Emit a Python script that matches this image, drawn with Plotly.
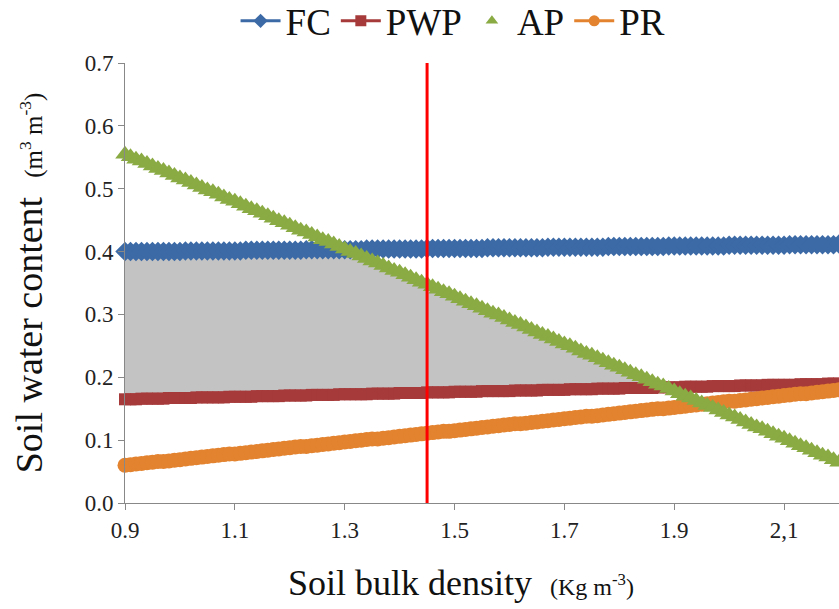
import numpy as np
import plotly.graph_objects as go

# Bulk density axis (0.90 .. 2.20, step 0.01)
bulk_density = [round(0.90 + 0.01 * i, 2) for i in range(131)]

FC = ([0.400] * 11 + [0.401] * 11 + [0.402] * 11 + [0.403] * 11 + [0.404] * 11 +
      [0.405] * 11 + [0.406] * 11 + [0.407] * 11 + [0.408] * 11 + [0.409] * 11 +
      [0.410] * 11 + [0.411] * 9 + [0.412] * 1)

PWP = ([0.165] * 3 + [0.166] * 5 + [0.167] * 5 + [0.168] * 6 + [0.169] * 5 +
       [0.170] * 5 + [0.171] * 5 + [0.172] * 5 + [0.173] * 6 + [0.174] * 5 +
       [0.175] * 5 + [0.176] * 5 + [0.177] * 5 + [0.178] * 6 + [0.179] * 5 +
       [0.180] * 5 + [0.181] * 5 + [0.182] * 5 + [0.183] * 6 + [0.184] * 5 +
       [0.185] * 5 + [0.186] * 5 + [0.187] * 5 + [0.188] * 6 + [0.189] * 5 +
       [0.190] * 3)

AP = [0.555, 0.551, 0.547, 0.544, 0.540, 0.536, 0.532, 0.529, 0.525, 0.521,
      0.517, 0.514, 0.510, 0.506, 0.502, 0.498, 0.495, 0.491, 0.487, 0.483,
      0.480, 0.476, 0.472, 0.468, 0.465, 0.461, 0.457, 0.453, 0.449, 0.446,
      0.442, 0.438, 0.434, 0.431, 0.427, 0.423, 0.419, 0.416, 0.412, 0.408,
      0.404, 0.400, 0.397, 0.393, 0.389, 0.385, 0.382, 0.378, 0.374, 0.370,
      0.367, 0.363, 0.359, 0.355, 0.351, 0.348, 0.344, 0.340, 0.336, 0.333,
      0.329, 0.325, 0.321, 0.317, 0.314, 0.310, 0.306, 0.302, 0.299, 0.295,
      0.291, 0.287, 0.284, 0.280, 0.276, 0.272, 0.268, 0.265, 0.261, 0.257,
      0.253, 0.250, 0.246, 0.242, 0.238, 0.235, 0.231, 0.227, 0.223, 0.219,
      0.216, 0.212, 0.208, 0.204, 0.201, 0.197, 0.193, 0.189, 0.186, 0.182,
      0.178, 0.174, 0.170, 0.167, 0.163, 0.159, 0.155, 0.152, 0.148, 0.144,
      0.140, 0.137, 0.133, 0.129, 0.125, 0.121, 0.118, 0.114, 0.110, 0.106,
      0.103, 0.099, 0.095, 0.091, 0.088, 0.084, 0.080, 0.076, 0.073, 0.069,
      0.065]

PR = [0.060, 0.061, 0.062, 0.063, 0.064, 0.065, 0.066, 0.066, 0.067, 0.068,
      0.069, 0.070, 0.071, 0.072, 0.073, 0.074, 0.075, 0.076, 0.077, 0.078,
      0.078, 0.079, 0.080, 0.081, 0.082, 0.083, 0.084, 0.085, 0.086, 0.087,
      0.088, 0.089, 0.090, 0.090, 0.091, 0.092, 0.093, 0.094, 0.095, 0.096,
      0.097, 0.098, 0.099, 0.100, 0.101, 0.102, 0.102, 0.103, 0.104, 0.105,
      0.106, 0.107, 0.108, 0.109, 0.110, 0.111, 0.112, 0.113, 0.114, 0.114,
      0.115, 0.116, 0.117, 0.118, 0.119, 0.120, 0.121, 0.122, 0.123, 0.124,
      0.125, 0.126, 0.126, 0.127, 0.128, 0.129, 0.130, 0.131, 0.132, 0.133,
      0.134, 0.135, 0.136, 0.137, 0.138, 0.138, 0.139, 0.140, 0.141, 0.142,
      0.143, 0.144, 0.145, 0.146, 0.147, 0.148, 0.149, 0.150, 0.150, 0.151,
      0.152, 0.153, 0.154, 0.155, 0.156, 0.157, 0.158, 0.159, 0.160, 0.161,
      0.162, 0.162, 0.163, 0.164, 0.165, 0.166, 0.167, 0.168, 0.169, 0.170,
      0.171, 0.172, 0.173, 0.174, 0.174, 0.175, 0.176, 0.177, 0.178, 0.179,
      0.180]

reference_density = 1.45

x_tickvals = [0.9, 1.1, 1.3, 1.5, 1.7, 1.9, 2.1]
x_ticktext = ["0.9", "1.1", "1.3", "1.5", "1.7", "1.9", "2,1"]
y_tickvals = [0.0, 0.1, 0.2, 0.3, 0.4, 0.5, 0.6, 0.7]

x_title = "Soil bulk density  <span style='font-size:24px'>(Kg m<sup>-3</sup>)</span>"
y_title = "Soil water content  <span style='font-size:25px'>(m<sup>3</sup> m<sup>-3</sup>)</span>"

C_FC = "#3C6AA6"
C_PWP = "#A63A3A"
C_AP = "#8AAA44"
C_PR = "#E3832F"
FONT = "Liberation Serif"

# Shaded region: between PWP and min(FC, AP)
fc_a = np.array(FC); pwp_a = np.array(PWP); ap_a = np.array(AP)
upper = np.maximum(np.minimum(fc_a, ap_a), pwp_a)

fig = go.Figure()
fig.add_trace(go.Scatter(x=bulk_density, y=PWP, mode="lines", line=dict(width=0),
                         showlegend=False, hoverinfo="skip"))
fig.add_trace(go.Scatter(x=bulk_density, y=upper.tolist(), mode="lines", line=dict(width=0),
                         fill="tonexty", fillcolor="#C3C3C3", showlegend=False, hoverinfo="skip"))

fig.add_trace(go.Scatter(x=bulk_density, y=FC, mode="lines+markers", name="FC", showlegend=False,
                         line=dict(color=C_FC, width=3),
                         marker=dict(symbol="diamond", size=15, color=C_FC), cliponaxis=False))
fig.add_trace(go.Scatter(x=bulk_density, y=PWP, mode="lines+markers", name="PWP", showlegend=False,
                         line=dict(color=C_PWP, width=3),
                         marker=dict(symbol="square", size=12, color=C_PWP), cliponaxis=False))
fig.add_trace(go.Scatter(x=bulk_density, y=PR, mode="lines+markers", name="PR", showlegend=False,
                         line=dict(color=C_PR, width=3),
                         marker=dict(symbol="circle", size=15, color=C_PR), cliponaxis=False))
fig.add_trace(go.Scatter(x=bulk_density, y=AP, mode="markers", name="AP", showlegend=False,
                         marker=dict(symbol="triangle-up", size=17, color=C_AP), cliponaxis=False))

# legend entries
for nm, col, sym, mode in [("FC", C_FC, "diamond", "lines+markers"),
                           ("PWP", C_PWP, "square", "lines+markers"),
                           ("AP", C_AP, "triangle-up", "markers"),
                           ("PR", C_PR, "circle", "lines+markers")]:
    fig.add_trace(go.Scatter(x=[None], y=[None], mode=mode, name=nm,
                             line=dict(color=col, width=3),
                             marker=dict(symbol=sym, size=11, color=col)))

fig.add_shape(type="line", xref="x", yref="y", x0=reference_density, x1=reference_density,
              y0=0, y1=0.7, line=dict(color="#FF0000", width=3), layer="above")

# x axis title placed as annotation (slightly left of plot-area centre, as in the reference)
fig.add_annotation(text=x_title, xref="paper", yref="paper", x=0.47, y=-0.182,
                   xanchor="center", yanchor="middle", showarrow=False,
                   font=dict(family=FONT, size=36, color="#111111"))

axis_common = dict(showgrid=False, zeroline=False, showline=True, linecolor="#888888",
                   linewidth=1, ticks="outside", ticklen=6, tickcolor="#888888",
                   tickfont=dict(family=FONT, size=23, color="#222222"))

fig.update_layout(
    width=839, height=609,
    margin=dict(l=125, r=0, t=63, b=106, autoexpand=False),
    paper_bgcolor="white", plot_bgcolor="white",
    font=dict(family=FONT, color="#111111"),
    showlegend=True,
    legend=dict(orientation="h", xref="container", yref="container", x=0.54, y=0.965,
                xanchor="center", yanchor="middle", traceorder="normal",
                font=dict(family=FONT, size=37, color="#111111"),
                itemwidth=40, tracegroupgap=0, bgcolor="rgba(0,0,0,0)"),
    xaxis=dict(range=[0.9, 2.2], tickvals=x_tickvals, ticktext=x_ticktext, **axis_common),
    yaxis=dict(range=[0, 0.7], tickvals=y_tickvals, tickformat=".1f",
               title=dict(text=y_title, font=dict(family=FONT, size=38), standoff=30),
               **axis_common),
)

fig.write_html("out.html")
